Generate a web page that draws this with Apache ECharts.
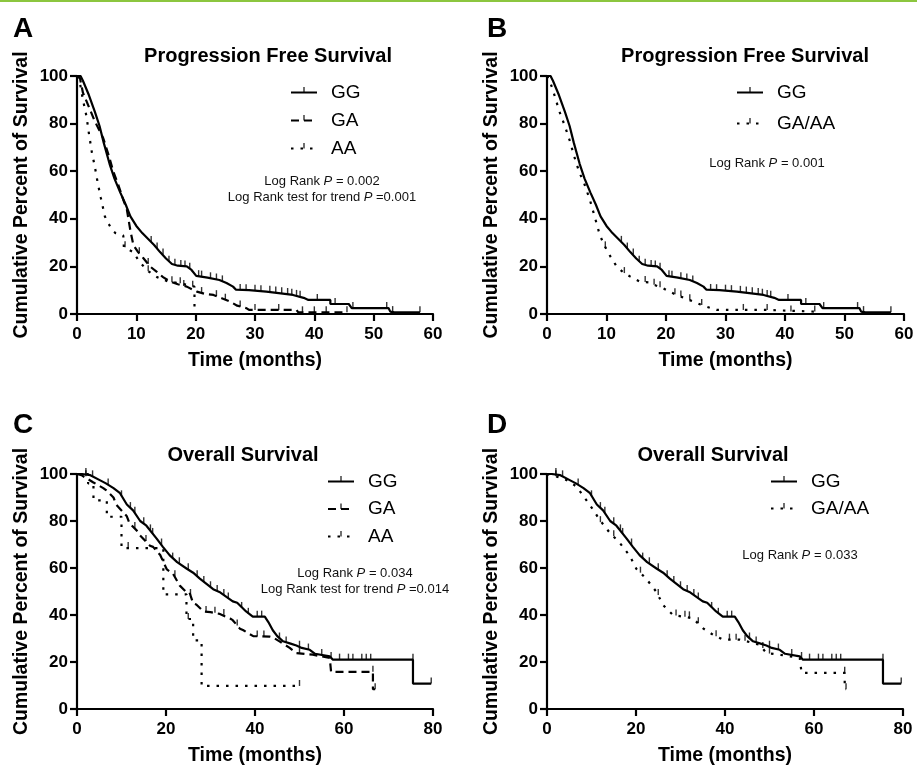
<!DOCTYPE html>
<html>
<head>
<meta charset="utf-8">
<script src="https://cdn.jsdelivr.net/npm/echarts@6/dist/echarts.min.js"></script>
<style>
html,body{margin:0;padding:0;background:#fff;}
#chart{width:917px;height:767px;}
</style>
</head>
<body>
<div id="chart"></div>
<script>
// ---------------- DATA ----------------
const pfsTicks = [0, 10, 20, 30, 40, 50, 60];
const osTicks = [0, 20, 40, 60, 80];
const yTicks = [0, 20, 40, 60, 80, 100];

// Progression free survival, GG (panels A and B)
const pfsGG = [[0,100],[0.6,100],[1,98],[2,92],[3,85],[3.8,79],[4.5,72],[5.5,63],[6.3,57],[7.3,51],[8.2,46],[9,41],[10,37],[11,34],[12,31.5],[13,29],[14,26],[15,23.3],[16,21],[17,20.3],[18.5,20],[19.3,18.5],[20.1,16],[22,15.3],[24,14.3],[25.2,13],[26.3,11.5],[26.8,10.2],[29,10],[31.9,9.4],[34,8.8],[36.4,8],[38.2,6.8],[39,5.9],[42.7,5.9],[42.7,4.2],[45.8,4.2],[46.3,2.5],[52.5,2.5],[52.8,1],[53.5,0.7],[57.8,0.7]];
const pfsGGcens = [[12.5,30.3],[13.5,27.5],[14.5,25],[15.5,22],[16.5,20.7],[17.5,20.2],[18.2,20],[19,19],[20.5,15.9],[21,15.7],[22.5,15],[23.5,14.5],[24.5,13.7],[27.5,10.1],[28.5,10],[30,9.8],[31,9.6],[32.5,9.3],[33.5,9],[34.5,8.7],[35.5,8.4],[36.2,8.1],[37,7.6],[37.6,7.2],[40.5,5.9],[43.5,4.2],[46.5,2.5],[52.2,2.5],[53.2,0.8],[57.8,0.7]];
// PFS, GA (panel A)
const pfsGA = [[0,100],[0.5,99],[1,93],[2,87],[3,81],[4.4,74],[5.3,67],[6.1,60],[7,54],[7.8,48],[8.4,44],[9,35],[9.5,29],[10.3,26],[11.2,23.4],[12.3,20],[13.4,17.8],[14.5,15.5],[15.7,13.6],[17,12.5],[18.5,11.5],[20.2,9.4],[21.5,8.5],[23,8],[24.5,6.5],[25.8,5.2],[27,3.5],[28.6,2.4],[29,1.7],[37,1.7],[37.3,0.7],[45.5,0.7]];
const pfsGAcens = [[10.5,25.5],[12,21],[16,13.3],[18,11.8],[21,8.8],[23.5,7.5],[25,6],[27.5,3.2],[30,1.7],[34,1.7],[38,0.7],[40,0.7],[42,0.7],[45.5,0.7]];
// PFS, AA (panel A)
const pfsAA = [[0,100],[0.5,97],[1,90],[1.6,83],[2,76],[2.5,68],[3,62],[3.5,55],[4,49],[4.7,41],[5.3,38],[6,35],[6.5,34],[7.8,33],[7.9,28],[9.5,26],[10.5,22],[12,18],[13.5,15.5],[15.4,13.6],[17.4,12.9],[19.8,11.5],[19.8,0]];
const pfsAAcens = [[8.1,28],[12,18],[17.4,12.9],[19.5,11.5]];
// PFS, GA/AA (panel B)
const pfsGAAA = [[0,100],[0.45,98],[1,94],[2.1,85],[3,79],[3.8,73],[4.6,66],[5.5,59],[6.1,56],[7.2,48],[8,41],[8.9,33],[9.75,28.3],[10.7,24],[11.7,20],[12.8,17.5],[14,15.7],[15.6,13.6],[17.3,13.2],[18.3,12],[19.5,10.8],[20.5,9.5],[21.8,8],[23,6.8],[24.6,5.2],[25.8,4],[26.8,3.1],[28.5,1.7],[37,1.7],[37.2,1],[45,1]];
const pfsGAAAcens = [[9.8,28],[13,17.2],[16.5,13.4],[18,12.3],[19,11.2],[21.5,8.3],[22.5,7.4],[24,5.8],[26,3.8],[33,1.7],[37,1.7],[41,1],[45,1]];

// Overall survival, GG (panels C and D)
const osGG = [[0,100],[1,100],[3,99.5],[5,97.5],[6.5,96],[8.2,94],[9.6,92],[11.2,87],[12.6,84.5],[14.2,80],[15.6,78],[17.9,72.5],[19.3,69],[20.8,65.5],[22.5,62.5],[24.6,59.8],[26.1,58],[27.6,55.5],[30.6,51],[32,49.8],[35,45.8],[36,45.2],[38,41.5],[39.5,39.3],[42.2,39.3],[43,37],[44,33.5],[45,31],[46.3,28.8],[48,27.8],[49.3,27],[50.5,26],[52.3,25.2],[53.5,23.5],[56.8,22.4],[57.5,21],[75.5,21],[75.5,10.8],[79.6,10.8]];
const osGGcens = [[2,100],[3.5,99],[7,95.5],[10,90.5],[12,85.5],[13,83.5],[15,79],[16.5,76],[17,74.5],[19,70],[21.5,64],[23,62],[25,59.5],[27,56.5],[28.5,54],[30,51.8],[31.5,50.2],[33,48.5],[34,47],[37,43],[38.5,40.5],[40.5,39.3],[41.5,39.3],[45.5,30],[47,28.3],[50,26.5],[52,25.3],[55,23],[59,21],[61,21],[62,21],[64,21],[65,21],[66,21],[75.5,21],[79.6,10.8]];
// OS, GA (panel C)
const osGA = [[0,100],[1,99.5],[3.6,96.5],[5.9,94],[6.6,93],[8.2,90],[8.8,87],[10,84.5],[11.2,82],[11.8,79],[13.4,76],[14.1,74],[16.4,69.5],[17.1,69],[18.7,65.5],[19.3,63],[20.2,59.4],[21.6,57.5],[23.1,52.5],[24.6,49.7],[25.3,49.5],[26.1,45],[26.8,44.5],[28.4,41.5],[30,41.2],[32,40.5],[34.4,38.5],[35,37.8],[36.6,34.2],[37.3,33.6],[39.6,31],[43.3,30.8],[44,30.5],[45.5,28.8],[47.8,26],[49.3,23.8],[53,23.1],[56.8,21.7],[57.1,21.7],[57.1,15.8],[66.5,15.8],[66.5,8.4],[67,8.4]];
const osGAcens = [[2,99],[13,77],[15.5,71.5],[22,56.5],[25.5,48.5],[29,41.3],[31,41],[33,40],[36,35.5],[40.5,30.8],[42,30.8],[50,23.6],[57.1,21.7],[66.5,15.8],[67,8.4]];
// OS, AA (panel C)
const osAA = [[0,100],[2.5,100],[2.5,96],[3.7,96],[3.7,88.8],[6.7,88.8],[6.7,81.8],[10,81.8],[10,68.5],[19.4,68.5],[19.4,48.8],[24.6,48.8],[24.6,38.3],[26.1,38.3],[26.1,29.2],[28,29.2],[28,9.8],[50,9.8]];
const osAAcens = [[11.5,68.5],[25,38.3],[50,9.8]];
// OS, GA/AA (panel D)
const osGAAA = [[0,100],[0.6,99.6],[2,99],[4.3,97.5],[6.6,94.7],[8.8,89],[10.3,85],[11.8,80.6],[14.1,75],[16.3,70.8],[18.6,65.2],[20.1,59.6],[22.3,55.4],[24.6,49.8],[26.1,44.2],[28.3,40],[30.6,39.3],[32.8,38.6],[35,34.4],[37.3,31.6],[39.6,29.5],[43.3,29.5],[45.5,28.5],[47.8,27.3],[49.3,23.8],[52.3,23.1],[56.8,21.7],[57.2,21.7],[57.2,15.4],[66.9,15.4],[66.9,8.4],[67.2,8.4]];
const osGAAAcens = [[2,99],[12,79.5],[15,73.5],[21,58],[25,48.5],[29,39.8],[31,39.3],[32,39],[34,36.5],[38,31],[41,29.5],[42.5,29.5],[44.5,29],[48.5,26],[50,23.6],[57.2,21.7],[66.9,15.4],[67.2,8.4]];

const panelLetters = ['A', 'B', 'C', 'D'];
const panelTitles = ['Progression Free Survival', 'Progression Free Survival', 'Overall Survival', 'Overall Survival'];
const pLines = [
  ['Log Rank |P| = 0.002', 'Log Rank test for trend |P| =0.001'],
  ['Log Rank |P| = 0.001'],
  ['Log Rank |P| = 0.034', 'Log Rank test for trend |P| =0.014'],
  ['Log Rank |P| = 0.033']
];
const yName = 'Cumulative Percent of Survival';
const xName = 'Time (months)';

// ---------------- LAYOUT ----------------
const FONT = '"Liberation Sans", Arial, Helvetica, sans-serif';
const grids = [
  {left: 77, top: 76, width: 356, height: 238},
  {left: 547, top: 76, width: 357, height: 238},
  {left: 77, top: 474, width: 356, height: 237},
  {left: 547, top: 474, width: 356, height: 237}
];
const xMax = [60, 60, 80, 80];
const xInt = [10, 10, 20, 20];

const letterPos = [[13, 29], [487, 29], [13, 425], [487, 425]];
const titlePos = [[268, 56], [745, 56], [243, 455], [713, 455]];
const pPos = [[322, 181], [767, 163], [355, 573], [800, 555]];

const styles = {
  solid: {type: 'solid', width: 2.2},
  dash: {type: [8, 5], width: 2.2},
  dot: {type: [2.5, 7], width: 2.2}
};
// censor tick drawn upward from the line (lower half of the symbol box is empty)
const tickSymbol = 'path://M9,0 L11,0 L11,10 L9,10 Z M0,20 L20,20';

const xAxes = grids.map((g, i) => ({
  type: 'value', gridIndex: i, min: 0, max: xMax[i], interval: xInt[i],
  name: xName, nameLocation: 'middle', nameGap: 37,
  nameTextStyle: {fontFamily: FONT, fontSize: 19.5, fontWeight: 'bold', color: '#000'},
  axisLine: {onZero: false, lineStyle: {color: '#000', width: 2.2}},
  axisTick: {length: 7, lineStyle: {color: '#000', width: 2.2}},
  axisLabel: {fontFamily: FONT, fontSize: 17, fontWeight: 'bold', color: '#000', margin: 12},
  splitLine: {show: false}
}));
const yAxes = grids.map((g, i) => ({
  type: 'value', gridIndex: i, min: 0, max: 100, interval: 20,
  name: yName, nameLocation: 'middle', nameGap: 45,
  nameTextStyle: {fontFamily: FONT, fontSize: 19.5, fontWeight: 'bold', color: '#000'},
  axisLine: {show: true, onZero: false, lineStyle: {color: '#000', width: 2.2}},
  axisTick: {show: true, length: 7, lineStyle: {color: '#000', width: 2.2}},
  axisLabel: {fontFamily: FONT, fontSize: 17, fontWeight: 'bold', color: '#000', margin: 9},
  splitLine: {show: false}
}));

function curve(name, data, idx, st) {
  return {
    type: 'line', name: name, data: data, xAxisIndex: idx, yAxisIndex: idx,
    symbol: tickSymbol, showSymbol: false, silent: true, z: 3,
    lineStyle: Object.assign({color: '#000'}, styles[st]),
    itemStyle: {color: '#000'}
  };
}
function cens(name, data, idx) {
  return {
    type: 'scatter', name: name + ' censored', data: data, xAxisIndex: idx, yAxisIndex: idx,
    symbol: 'rect', symbolSize: [1.4, 6], symbolOffset: [0, -3], silent: true, z: 4,
    itemStyle: {color: '#000'}
  };
}

const series = [
  curve('GG', pfsGG, 0, 'solid'), cens('GG', pfsGGcens, 0),
  curve('GA', pfsGA, 0, 'dash'), cens('GA', pfsGAcens, 0),
  curve('AA', pfsAA, 0, 'dot'), cens('AA', pfsAAcens, 0),
  curve('GG', pfsGG, 1, 'solid'), cens('GG', pfsGGcens, 1),
  curve('GA/AA', pfsGAAA, 1, 'dot'), cens('GA/AA', pfsGAAAcens, 1),
  curve('GG', osGG, 2, 'solid'), cens('GG', osGGcens, 2),
  curve('GA', osGA, 2, 'dash'), cens('GA', osGAcens, 2),
  curve('AA', osAA, 2, 'dot'), cens('AA', osAAcens, 2),
  curve('GG', osGG, 3, 'solid'), cens('GG', osGGcens, 3),
  curve('GA/AA', osGAAA, 3, 'dot'), cens('GA/AA', osGAAAcens, 3)
];

function legend(names, left, top, gap) {
  return {
    data: names, orient: 'vertical', left: left, top: top, itemGap: gap, padding: 0,
    itemWidth: 26, itemHeight: 14, selectedMode: false,
    textStyle: {fontFamily: FONT, fontSize: 19, color: '#000', padding: [0, 0, 0, 9]}
  };
}
const legends = [
  legend(['GG', 'GA', 'AA'], 290, 83, 9),
  legend(['GG', 'GA/AA'], 736, 83, 12),
  legend(['GG', 'GA', 'AA'], 327, 472, 8.5),
  legend(['GG', 'GA/AA'], 770, 472, 8)
];

const titles = [];
panelLetters.forEach((t, i) => titles.push({
  text: t, left: letterPos[i][0], top: letterPos[i][1], textVerticalAlign: 'middle', padding: 0,
  textStyle: {fontFamily: FONT, fontSize: 28, fontWeight: 'bold', color: '#000'}
}));
panelTitles.forEach((t, i) => titles.push({
  text: t, left: titlePos[i][0], top: titlePos[i][1], textAlign: 'center', textVerticalAlign: 'middle', padding: 0,
  textStyle: {fontFamily: FONT, fontSize: 20, fontWeight: 'bold', color: '#000'}
}));
pLines.forEach((lines, i) => lines.forEach((ln, j) => {
  const parts = ln.split('|');
  titles.push({
    text: '{n|' + parts[0] + '}{i|' + parts[1] + '}{n|' + parts[2] + '}',
    left: pPos[i][0], top: pPos[i][1] + j * 16, textAlign: 'center', textVerticalAlign: 'middle', padding: 0,
    textStyle: {
      fontWeight: 'normal', fontFamily: FONT, fontSize: 13,
      rich: {
        n: {fontFamily: FONT, fontSize: 13, fontWeight: 'normal', color: '#111'},
        i: {fontFamily: FONT, fontSize: 13, fontWeight: 'normal', fontStyle: 'italic', color: '#111'}
      }
    }
  });
}));

const chart = echarts.init(document.getElementById('chart'), null, {renderer: 'canvas'});
chart.setOption({
  animation: false,
  backgroundColor: '#fff',
  title: titles,
  legend: legends,
  grid: grids,
  xAxis: xAxes,
  yAxis: yAxes,
  series: series,
  graphic: [{type: 'rect', left: 0, top: 0, shape: {width: 917, height: 2}, style: {fill: '#8cc63f'}}]
});
</script>
</body>
</html>
